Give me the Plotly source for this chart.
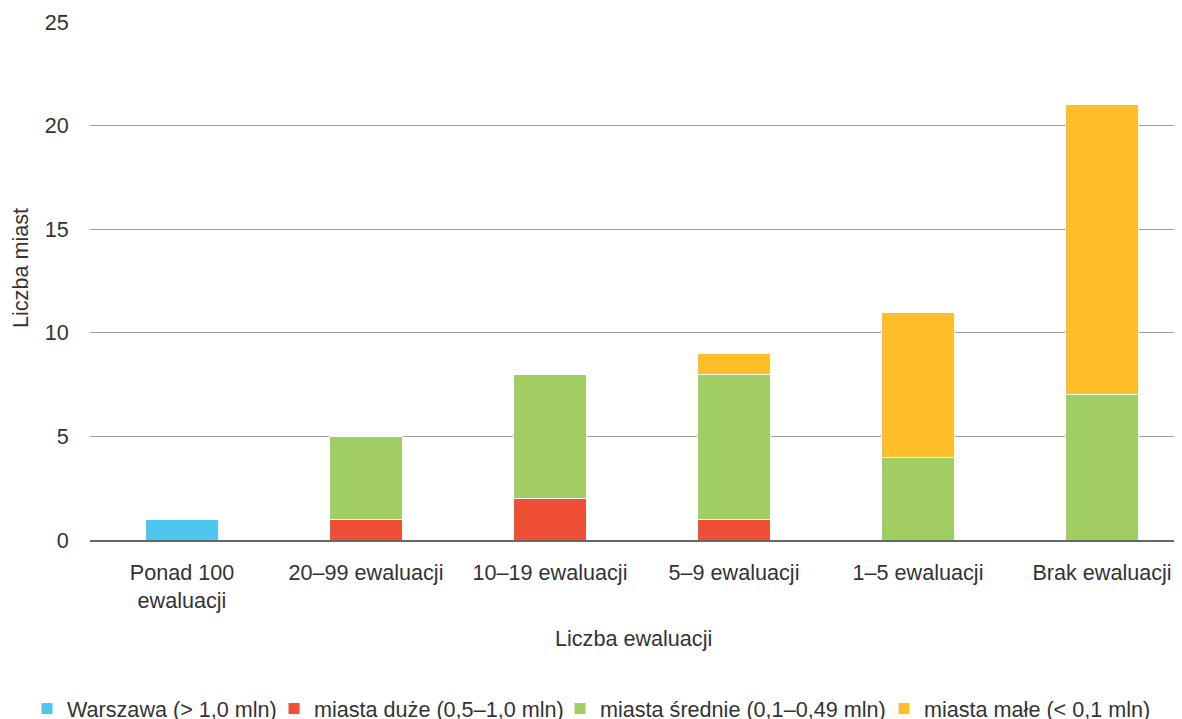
import plotly.graph_objects as go

categories = ["Ponad 100<br>ewaluacji", "20–99 ewaluacji", "10–19 ewaluacji",
              "5–9 ewaluacji", "1–5 ewaluacji", "Brak ewaluacji"]
warszawa = [1, 0, 0, 0, 0, 0]
duze = [0, 1, 2, 1, 0, 0]
srednie = [0, 4, 6, 7, 4, 7]
male = [0, 0, 0, 1, 7, 14]

series = [
    ("Warszawa (> 1,0 mln)", warszawa, "#4DC7EF", 202),
    ("miasta duże (0,5–1,0 mln)", duze, "#F04F37", 241),
    ("miasta średnie (0,1–0,49 mln)", srednie, "#A0CE62", 279),
    ("miasta małe (< 0,1 mln)", male, "#FEBE2A", 224),
]

FONT = "Liberation Sans, Arial, sans-serif"
FS = 21.6
# page body has an 8px margin -> compensate
L, T, PW, PH = 82, 14, 1104, 518
W, H = L + PW, 711

def px_x(x):
    return (x - 8 - L) / PW

def px_y(y):
    return (T + PH - (y - 8)) / PH

fig = go.Figure()
for name, vals, color, lw in series:
    fig.add_trace(go.Bar(
        x=list(range(len(categories))),
        y=[v if v else None for v in vals],
        name=name,
        legendwidth=lw,
        marker=dict(color=color, line=dict(color="white", width=1)),
        width=0.4,
    ))

fig.update_layout(
    width=W, height=H,
    barmode="stack",
    plot_bgcolor="white", paper_bgcolor="white",
    font=dict(family=FONT, size=FS, color="#333333"),
    margin=dict(l=L, r=0, t=T, b=H - T - PH, autoexpand=False),
    showlegend=True,
    legend=dict(orientation="h", xref="paper", x=px_x(27), xanchor="left",
                yref="paper", y=px_y(709), yanchor="middle",
                font=dict(size=FS, color="#333333"), traceorder="normal",
                itemclick=False, itemwidth=30, tracegroupgap=0),
    xaxis=dict(
        tickmode="array", tickvals=list(range(len(categories))), ticktext=categories,
        range=[-0.5, 5.5], showgrid=False, zeroline=False,
        showline=True, linecolor="#666666", linewidth=2,
        ticks="outside", ticklen=12, tickcolor="rgba(0,0,0,0)",
        tickfont=dict(size=FS, color="#333333"),
    ),
    yaxis=dict(
        range=[0, 25], tickvals=[0, 5, 10, 15, 20, 25],
        showgrid=True, gridcolor="#A0A0A0", gridwidth=1,
        zeroline=False, showline=False,
        ticks="outside", ticklen=16, tickcolor="rgba(0,0,0,0)",
        tickfont=dict(size=FS, color="#333333"),
    ),
    annotations=[
        dict(text="Liczba ewaluacji", xref="paper", yref="paper",
             x=px_x(633), y=px_y(638),
             xanchor="center", yanchor="middle", showarrow=False,
             font=dict(size=FS, color="#333333")),
        dict(text="Liczba miast", xref="paper", yref="paper",
             x=px_x(20), y=px_y(268), textangle=-90,
             xanchor="center", yanchor="middle", showarrow=False,
             font=dict(size=FS, color="#333333")),
    ],
)

fig.write_html("out.html")
